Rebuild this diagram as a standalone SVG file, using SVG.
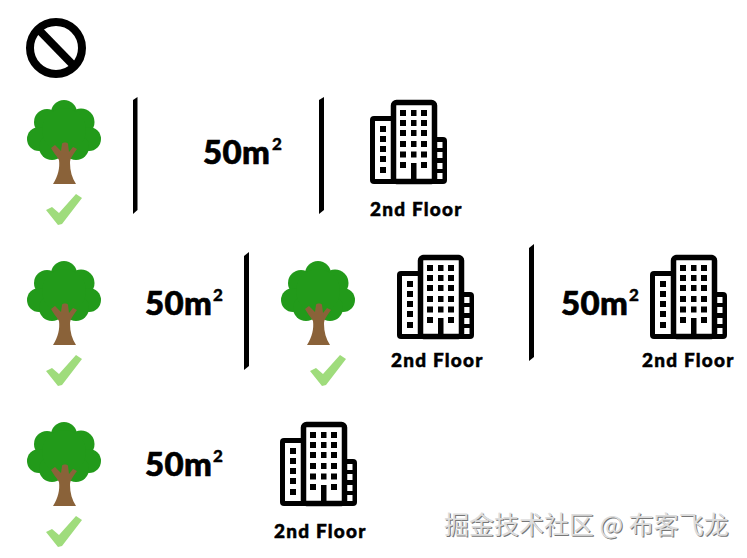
<svg xmlns="http://www.w3.org/2000/svg" width="747" height="558" viewBox="0 0 747 558">
<style>
.area{font-family:"Lato","Liberation Sans",sans-serif;font-weight:900;font-size:33px;letter-spacing:.3px;fill:#000;stroke:#000;stroke-width:.7px}
.sup{font-family:"Lato","Liberation Sans",sans-serif;font-weight:900;font-size:17px;fill:#000;stroke:#000;stroke-width:.4px}
.floor{font-family:"Lato","Liberation Sans",sans-serif;font-weight:900;font-size:19px;letter-spacing:1.2px;fill:#000;stroke:#000;stroke-width:.5px}
.wm{font-family:"Noto Sans CJK SC","Liberation Sans",sans-serif;font-size:25px}
.bar{fill:#000}
</style>
<defs>
<g id="tree">
<g fill="#229a1a">
<circle cx="64" cy="113" r="13"/><circle cx="47" cy="122" r="13"/><circle cx="81" cy="122" r="13.500"/><circle cx="39" cy="139" r="12"/><circle cx="89" cy="139" r="12"/><circle cx="52" cy="147" r="13"/><circle cx="76" cy="147" r="13"/><circle cx="64" cy="130" r="22"/>
</g>
<path d="M53 184 C58 176 60 168 59 160 C56 155 53 152 51 148 L55 145 L61 151 L62 144 C62 142 68 142 68 144 L69 152 L73 147 L77 149 C73 155 70 158 70 163 C70 171 72 178 76 184 Z" fill="#8a6239"/>
</g>
<g id="check"><path d="M46 210 L52 207 L59 213 L76 194 L82 198 L62 224 L58 225 Z" fill="#9fdc7c"/></g>
<g id="building">
<rect x="425" y="137" width="22" height="47" rx="4" fill="#000"/>
<path fill="#fff" d="M437 142h5.500v6h-5.500zM437 152h5.500v6h-5.500zM437 163h5.500v6h-5.500zM437 173h5.500v6h-5.500z"/>
<rect x="370" y="116" width="30" height="68" rx="4" fill="#000"/>
<rect x="375" y="121" width="16" height="58" fill="#fff"/>
<rect x="393.500" y="102.500" width="41" height="79" rx="3" fill="#fff" stroke="#000" stroke-width="5.500"/>
<path fill="#000" d="M400 110h6v6h-6zM411 110h5.500v6h-5.500zM421 110h6v6h-6zM400 120h6v6h-6zM411 120h5.500v6h-5.500zM421 120h6v6h-6zM400 130h6v6h-6zM411 130h5.500v6h-5.500zM421 130h6v6h-6zM400 141h6v6h-6zM411 141h5.500v6h-5.500zM421 141h6v6h-6zM400 151.500h6v6h-6zM411 151.500h5.500v6h-5.500zM421 151.500h6v6h-6zM400 162h6v6h-6zM421 162h6v6h-6zM411 163h5.500v19h-5.500zM380 126h6v6h-6zM380 136h6v6h-6zM380 146h6v6h-6zM380 156h6v6h-6zM380 167h6v6h-6z"/>
</g>
</defs>
<g id="no-sign" fill="none" stroke="#000" stroke-width="8">
<circle cx="56" cy="48" r="26"/>
<path d="M38 29 L74 66"/>
</g>
<g id="row-1">
<g id="tree-1"><use href="#tree"/><use href="#check"/></g>
<path class="bar" d="M133 100 L137.500 97 V210 L133 214 Z"/>
<g id="area-1"><text class="area" x="203" y="164">50m</text><text class="sup" x="272" y="150">2</text></g>
<path class="bar" d="M319 100 L324 97 V210 L319 214 Z"/>
<g id="building-1"><use href="#building"/><text class="floor" x="370" y="216">2nd Floor</text></g>
</g>
<g id="row-2">
<g id="tree-2"><use href="#tree" y="161"/><use href="#check" y="161"/></g>
<g id="area-2"><text class="area" x="145" y="315">50m</text><text class="sup" x="213" y="301">2</text></g>
<path class="bar" d="M244 256 L249 252 V366 L244 370 Z"/>
<g id="tree-3"><use href="#tree" x="254" y="161"/><use href="#check" x="264" y="161"/></g>
<g id="building-2"><use href="#building" x="27" y="155"/><text class="floor" x="391" y="367">2nd Floor</text></g>
<path class="bar" d="M529 248 L534 244 V357 L529 361 Z"/>
<g id="area-3"><text class="area" x="561" y="315">50m</text><text class="sup" x="629" y="301">2</text></g>
<g id="building-3"><use href="#building" x="280" y="155"/><text class="floor" x="642" y="367">2nd Floor</text></g>
</g>
<g id="row-3">
<g id="tree-4"><use href="#tree" y="322"/><use href="#check" y="322"/></g>
<g id="area-4"><text class="area" x="145" y="476">50m</text><text class="sup" x="213" y="462">2</text></g>
<g id="building-4"><use href="#building" x="-90" y="322"/><text class="floor" x="274" y="538">2nd Floor</text></g>
</g>
<g id="watermark">
<text class="wm" x="445" y="535" fill="#777">掘金技术社区 @ 布客飞龙</text>
<text class="wm" x="444" y="534" fill="#ddd">掘金技术社区 @ 布客飞龙</text>
</g>
</svg>
